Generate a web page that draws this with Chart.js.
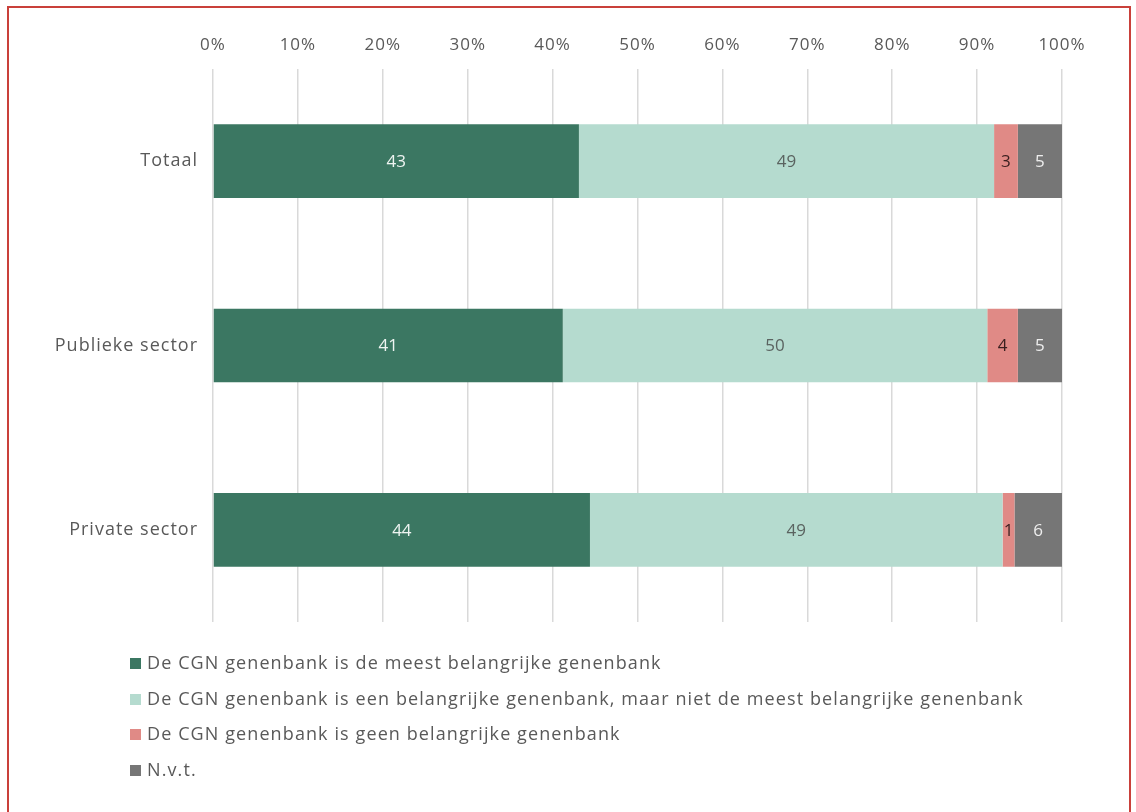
<!DOCTYPE html>
<html>
<head>
<meta charset="utf-8">
<script src="https://cdn.jsdelivr.net/npm/chart.js@4"></script>
<style>
  html, body { margin: 0; padding: 0; background: #fff; }
  #wrap { position: relative; width: 1136px; height: 812px; overflow: hidden; }
  #frame { position: absolute; left: 7px; top: 6px; width: 1124px; height: 820px; border: 2px solid #c9403a; box-sizing: border-box; pointer-events: none; }
  #legend { position: absolute; left: 130px; top: 648px; font-family: 'Open Sans', sans-serif; font-size: 18px; letter-spacing: 1.1px; color: #595959; }
  #legend div { height: 35.5px; line-height: 28px; white-space: nowrap; }
  #legend span.box { display: inline-block; width: 11px; height: 11px; margin-right: 6px; vertical-align: 0px; }
</style>
</head>
<body>
<div id="wrap">
  <canvas id="chart" width="1136" height="812"></canvas>
  <div id="frame"></div>
  <div id="legend"></div>
</div>
<script>
// categories and series (percentages)
const categories = ['Totaal', 'Publieke sector', 'Private sector'];
const seriesNames = [
  'De CGN genenbank is de meest belangrijke genenbank',
  'De CGN genenbank is een belangrijke genenbank, maar niet de meest belangrijke genenbank',
  'De CGN genenbank is geen belangrijke genenbank',
  'N.v.t.'
];
const meestBelangrijk = [43.1, 41.2, 44.4];
const belangrijk = [48.9, 50.0, 48.6];
const geenBelangrijk = [2.8, 3.6, 1.4];
const nvt = [5.2, 5.2, 5.6];
const xTicks = [0, 10, 20, 30, 40, 50, 60, 70, 80, 90, 100];

const barColors = ['#3b7762', '#b5dbcf', '#e08a86', '#767676'];
const labelColors = ['#eef4f1', '#5a6360', '#3a1f1f', '#eeeeee'];
const fontFamily = "'Open Sans', sans-serif";

// wider letter spacing to get closer to the original's wide typeface
const spacing = {
  id: 'spacing',
  beforeDraw(chart) { chart.ctx.letterSpacing = '1px'; }
};

// draws the rounded value in the middle of each bar segment
const valueLabels = {
  id: 'valueLabels',
  afterDatasetsDraw(chart) {
    const ctx = chart.ctx;
    ctx.save();
    ctx.letterSpacing = '0px';
    ctx.font = '17px ' + fontFamily;
    ctx.textAlign = 'center';
    ctx.textBaseline = 'middle';
    chart.data.datasets.forEach((ds, i) => {
      const meta = chart.getDatasetMeta(i);
      meta.data.forEach((bar, j) => {
        const cx = (bar.x + bar.base) / 2;
        ctx.fillStyle = labelColors[i];
        ctx.fillText(String(Math.round(ds.data[j])), cx, bar.y + 1);
      });
    });
    ctx.restore();
  }
};

const seriesData = [meestBelangrijk, belangrijk, geenBelangrijk, nvt];

const ctx = document.getElementById('chart').getContext('2d');
const chart = new Chart(ctx, {
  type: 'bar',
  data: {
    labels: categories,
    datasets: seriesNames.map((name, i) => ({
      label: name,
      data: seriesData[i],
      backgroundColor: barColors[i],
      borderWidth: 0,
      categoryPercentage: 1,
      barPercentage: 0.4
    }))
  },
  options: {
    indexAxis: 'y',
    responsive: false,
    animation: false,
    layout: { padding: { left: 10, right: 74, top: 0, bottom: 190 } },
    plugins: {
      legend: { display: false },
      tooltip: { enabled: false }
    },
    scales: {
      x: {
        position: 'top',
        stacked: true,
        min: 0,
        max: 100,
        afterBuildTicks: (scale) => { scale.ticks = xTicks.map(v => ({ value: v })); },
        afterFit: (scale) => { scale.height = 69; },
        border: { display: false },
        grid: { color: '#d9d9d9', lineWidth: 1.5, drawTicks: false },
        ticks: {
          padding: 14,
          color: '#595959',
          font: { family: fontFamily, size: 17 },
          callback: (v) => v + '%'
        }
      },
      y: {
        stacked: true,
        afterFit: (scale) => { scale.width = 203; },
        border: { display: false },
        grid: { display: false },
        ticks: {
          padding: 7,
          color: '#595959',
          font: { family: fontFamily, size: 18 }
        }
      }
    }
  },
  plugins: [spacing, valueLabels]
});

// legend, one entry per line, built from the chart datasets
const legendEl = document.getElementById('legend');
chart.data.datasets.forEach((ds) => {
  const row = document.createElement('div');
  const box = document.createElement('span');
  box.className = 'box';
  box.style.background = ds.backgroundColor;
  row.appendChild(box);
  row.appendChild(document.createTextNode(ds.label));
  legendEl.appendChild(row);
});
</script>
</body>
</html>
